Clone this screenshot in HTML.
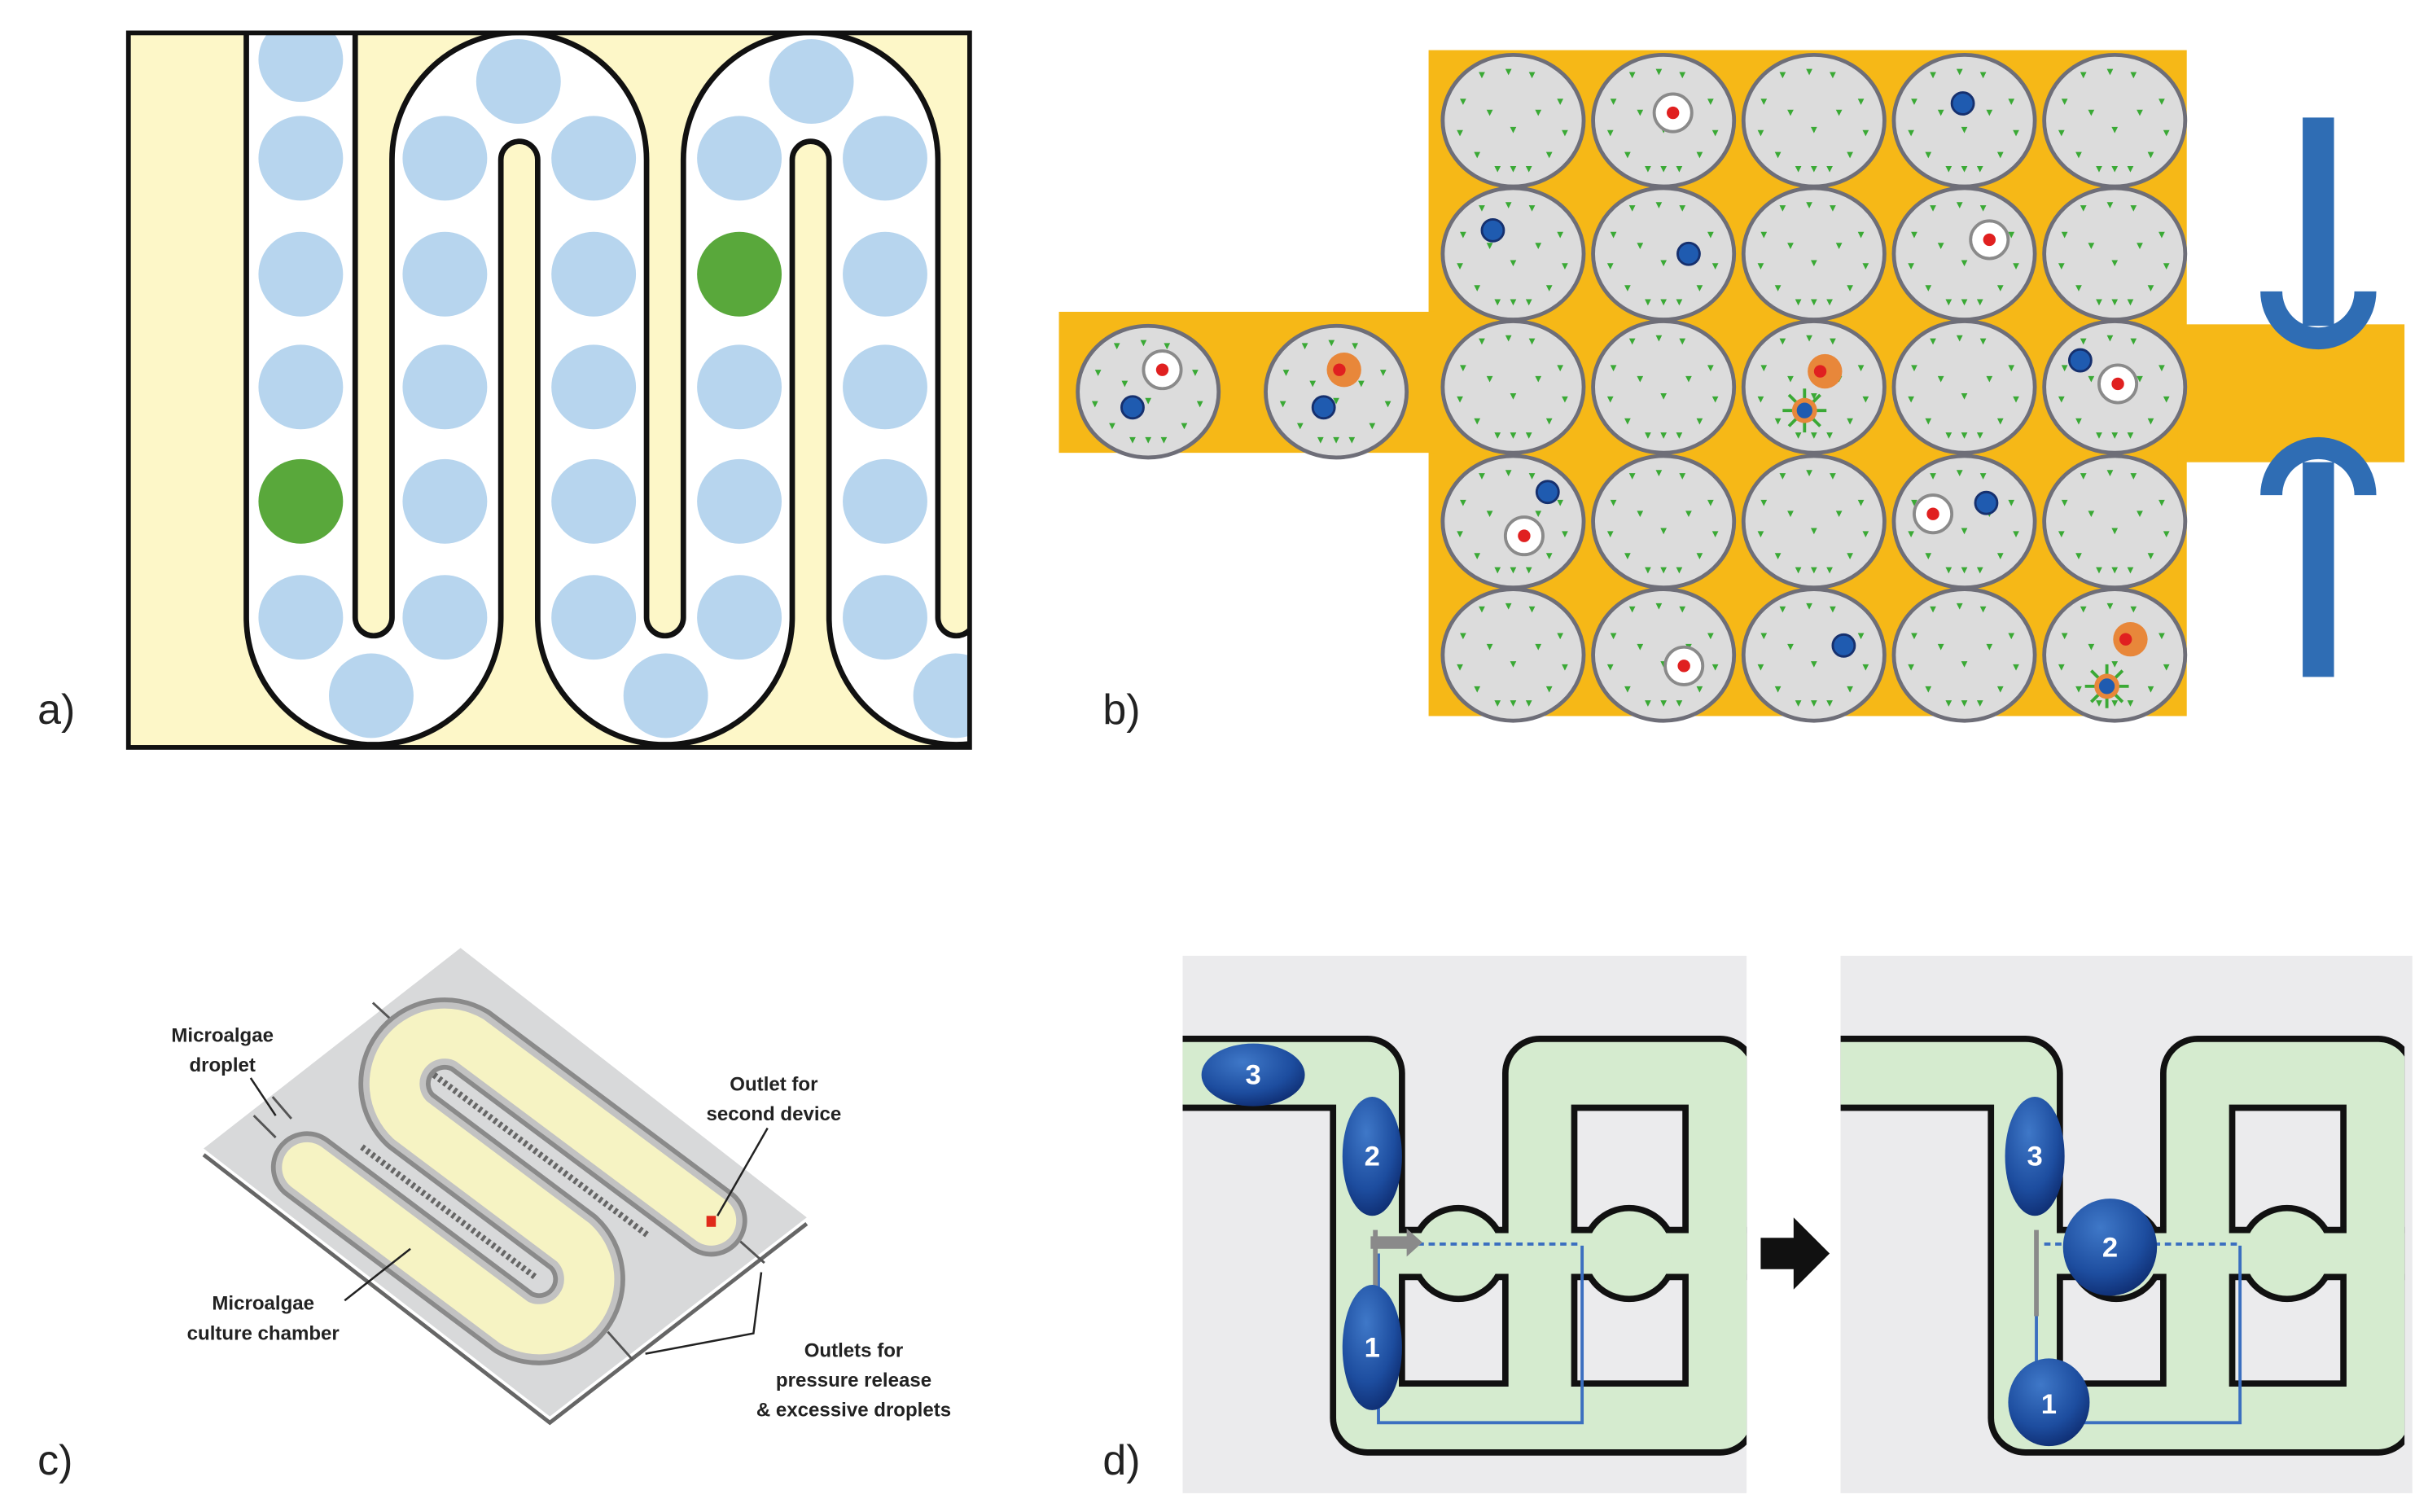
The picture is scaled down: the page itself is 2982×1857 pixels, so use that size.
<!DOCTYPE html>
<html><head><meta charset="utf-8"><style>
html,body{margin:0;padding:0;background:#fff;}
svg{display:block;}
</style></head><body>
<svg width="2982" height="1857" viewBox="0 0 1550 965" preserveAspectRatio="none" xmlns="http://www.w3.org/2000/svg">
<defs>
<clipPath id="ca"><rect x="82" y="21" width="537" height="456"/></clipPath>
<clipPath id="cdl"><rect x="755" y="610" width="360" height="343"/></clipPath>
<clipPath id="cdr"><rect x="1175" y="610" width="365" height="343"/></clipPath>
<radialGradient id="bl" cx="0.4" cy="0.3" r="0.8">
<stop offset="0" stop-color="#3f78c8"/><stop offset="0.6" stop-color="#1d4d9f"/><stop offset="1" stop-color="#0b2566"/></radialGradient>
<g id="mk" fill="#3aa935">
<polygon points="-22,-31 -18,-31 -20,-27"/><polygon points="-5,-33 -1,-33 -3,-29"/><polygon points="10,-31 14,-31 12,-27"/>
<polygon points="-34,-14 -30,-14 -32,-10"/><polygon points="28,-14 32,-14 30,-10"/><polygon points="-17,-7 -13,-7 -15,-3"/>
<polygon points="14,-7 18,-7 16,-3"/><polygon points="-36,6 -32,6 -34,10"/><polygon points="31,6 35,6 33,10"/>
<polygon points="-2,4 2,4 0,8"/><polygon points="-25,20 -21,20 -23,24"/><polygon points="21,20 25,20 23,24"/>
<polygon points="-12,29 -8,29 -10,33"/><polygon points="-2,29 2,29 0,33"/><polygon points="8,29 12,29 10,33"/>
</g>
<g id="cell"><ellipse rx="45" ry="42" fill="#dcdcdc" stroke="#6e6e78" stroke-width="2.5"/><use href="#mk"/></g>
<g id="wr"><circle r="12" fill="#fff" stroke="#8a8a8a" stroke-width="2"/><circle r="4" fill="#e02020"/></g>
<g id="bd"><circle r="7" fill="#1f5bb0" stroke="#16306e" stroke-width="1.5"/></g>
<g id="or"><circle r="11" fill="#e8873a"/><circle cx="-3" r="4" fill="#e02020"/></g>
<g id="st"><g stroke="#3aa935" stroke-width="2"><line x1="-14" y1="0" x2="14" y2="0"/><line x1="0" y1="-14" x2="0" y2="14"/><line x1="-10" y1="-10" x2="10" y2="10"/><line x1="-10" y1="10" x2="10" y2="-10"/></g><circle r="8" fill="#e8873a"/><circle r="5" fill="#1f5bb0"/></g>
</defs>

<!-- Panel a -->
<rect x="82" y="21" width="537" height="456" fill="#fdf7c8"/>
<g clip-path="url(#ca)" fill="none">
<path d="M192,0 V394 A46.5,46.5 0 0 0 285,394 V102 A46.5,46.5 0 0 1 378,102 V394 A46.5,46.5 0 0 0 471,394 V102 A46.5,46.5 0 0 1 564,102 V394 A46.5,46.5 0 0 0 657,394 V0" stroke="#111" stroke-width="73"/>
<path d="M192,0 V394 A46.5,46.5 0 0 0 285,394 V102 A46.5,46.5 0 0 1 378,102 V394 A46.5,46.5 0 0 0 471,394 V102 A46.5,46.5 0 0 1 564,102 V394 A46.5,46.5 0 0 0 657,394 V0" stroke="#fff" stroke-width="66"/>
<g fill="#b7d5ee">
<circle cx="192" cy="38" r="27"/><circle cx="192" cy="101" r="27"/><circle cx="192" cy="175" r="27"/><circle cx="192" cy="247" r="27"/><circle cx="192" cy="394" r="27"/>
<circle cx="237" cy="444" r="27"/>
<circle cx="284" cy="101" r="27"/><circle cx="284" cy="175" r="27"/><circle cx="284" cy="247" r="27"/><circle cx="284" cy="320" r="27"/><circle cx="284" cy="394" r="27"/>
<circle cx="331" cy="52" r="27"/>
<circle cx="379" cy="101" r="27"/><circle cx="379" cy="175" r="27"/><circle cx="379" cy="247" r="27"/><circle cx="379" cy="320" r="27"/><circle cx="379" cy="394" r="27"/>
<circle cx="425" cy="444" r="27"/>
<circle cx="472" cy="101" r="27"/><circle cx="472" cy="247" r="27"/><circle cx="472" cy="320" r="27"/><circle cx="472" cy="394" r="27"/>
<circle cx="518" cy="52" r="27"/>
<circle cx="565" cy="101" r="27"/><circle cx="565" cy="175" r="27"/><circle cx="565" cy="247" r="27"/><circle cx="565" cy="320" r="27"/><circle cx="565" cy="394" r="27"/>
<circle cx="610" cy="444" r="27"/>
</g>
<circle cx="192" cy="320" r="27" fill="#59a83b"/><circle cx="472" cy="175" r="27" fill="#59a83b"/>
</g>
<rect x="82" y="21" width="537" height="456" fill="none" stroke="#111" stroke-width="3"/>
<text x="24" y="462" font-family="Liberation Sans, sans-serif" font-size="27" fill="#222">a)</text>

<!-- Panel b -->
<rect x="912" y="32" width="484" height="425" fill="#f6b817"/>
<rect x="676" y="199" width="240" height="90" fill="#f6b817"/>
<rect x="1390" y="207" width="145" height="88" fill="#f6b817"/>
<circle cx="1480" cy="178" r="42" fill="#fff"/>
<circle cx="1480" cy="325" r="42" fill="#fff"/>
<g>
<use href="#cell" x="966" y="77"/><use href="#cell" x="1062" y="77"/><use href="#cell" x="1158" y="77"/><use href="#cell" x="1254" y="77"/><use href="#cell" x="1350" y="77"/>
<use href="#cell" x="966" y="162"/><use href="#cell" x="1062" y="162"/><use href="#cell" x="1158" y="162"/><use href="#cell" x="1254" y="162"/><use href="#cell" x="1350" y="162"/>
<use href="#cell" x="966" y="247"/><use href="#cell" x="1062" y="247"/><use href="#cell" x="1158" y="247"/><use href="#cell" x="1254" y="247"/><use href="#cell" x="1350" y="247"/>
<use href="#cell" x="966" y="333"/><use href="#cell" x="1062" y="333"/><use href="#cell" x="1158" y="333"/><use href="#cell" x="1254" y="333"/><use href="#cell" x="1350" y="333"/>
<use href="#cell" x="966" y="418"/><use href="#cell" x="1062" y="418"/><use href="#cell" x="1158" y="418"/><use href="#cell" x="1254" y="418"/><use href="#cell" x="1350" y="418"/>
<use href="#cell" x="733" y="250"/><use href="#cell" x="853" y="250"/>
</g>
<use href="#wr" x="1068" y="72"/><use href="#bd" x="1253" y="66"/>
<use href="#bd" x="953" y="147"/><use href="#bd" x="1078" y="162"/><use href="#wr" x="1270" y="153"/>
<use href="#or" x="1165" y="237"/><use href="#st" x="1152" y="262"/><use href="#bd" x="1328" y="230"/><use href="#wr" x="1352" y="245"/>
<use href="#bd" x="988" y="314"/><use href="#wr" x="973" y="342"/><use href="#wr" x="1234" y="328"/><use href="#bd" x="1268" y="321"/>
<use href="#wr" x="1075" y="425"/><use href="#bd" x="1177" y="412"/><use href="#or" x="1360" y="408"/><use href="#st" x="1345" y="438"/>
<use href="#wr" x="742" y="236"/><use href="#bd" x="723" y="260"/><use href="#or" x="858" y="236"/><use href="#bd" x="845" y="260"/>
<g stroke="#2f6db4" fill="none">
<line x1="1480" y1="75" x2="1480" y2="208" stroke-width="20"/>
<path d="M1450,186 A30,30 0 0 0 1510,186" stroke-width="14"/>
<line x1="1480" y1="295" x2="1480" y2="432" stroke-width="20"/>
<path d="M1450,316 A30,30 0 0 1 1510,316" stroke-width="14"/>
</g>
<text x="704" y="462" font-family="Liberation Sans, sans-serif" font-size="27" fill="#222">b)</text>

<!-- Panel c -->
<polygon points="294,605 515,777 351,904 130,733" fill="#d8d9da"/>
<polyline points="130,737 351,908 515,781" fill="none" stroke="#666" stroke-width="2.5"/>
<g fill="none" stroke="#555" stroke-width="1.5">
<line x1="238" y1="640" x2="262" y2="662"/>
<line x1="162" y1="712" x2="176" y2="726"/><line x1="174" y1="700" x2="186" y2="714"/>
<path d="M182,728 L190,736 L200,732"/>
<line x1="470" y1="790" x2="488" y2="806"/>
<line x1="388" y1="850" x2="404" y2="868"/>
</g>
<path d="M196,745 L328,844 A32,32 0 0 0 366,793 L262,715 A32,32 0 0 1 300,664 L454,779" fill="none" stroke="#8a8a8a" stroke-width="46" stroke-linecap="round" stroke-linejoin="round"/>
<path d="M196,745 L328,844 A32,32 0 0 0 366,793 L262,715 A32,32 0 0 1 300,664 L454,779" fill="none" stroke="#c2c2c2" stroke-width="40" stroke-linecap="round" stroke-linejoin="round"/>
<path d="M196,745 L328,844 A32,32 0 0 0 366,793 L262,715 A32,32 0 0 1 300,664 L454,779" fill="none" stroke="#f6f3c3" stroke-width="32" stroke-linecap="round" stroke-linejoin="round"/>
<path d="M231,732 L343,816 M277,686 L413,788" fill="none" stroke="#666" stroke-width="4" stroke-dasharray="2,2"/>
<rect x="451" y="776" width="6" height="7" fill="#e02a1a"/>
<g font-family="Liberation Sans, sans-serif" font-size="12.5" font-weight="bold" fill="#222" text-anchor="middle">
<text x="142" y="665">Microalgae</text><text x="142" y="684">droplet</text>
<text x="494" y="696">Outlet for</text><text x="494" y="715">second device</text>
<text x="168" y="836">Microalgae</text><text x="168" y="855">culture chamber</text>
<text x="545" y="866">Outlets for</text><text x="545" y="885">pressure release</text><text x="545" y="904">&amp; excessive droplets</text>
</g>
<g fill="none" stroke="#222" stroke-width="1.3">
<line x1="160" y1="688" x2="176" y2="712"/>
<line x1="490" y1="720" x2="458" y2="776"/>
<line x1="220" y1="830" x2="262" y2="797"/>
<polyline points="486,812 481,851 412,864"/>
</g>
<text x="24" y="941" font-family="Liberation Sans, sans-serif" font-size="27" fill="#222">c)</text>

<!-- Panel d -->
<rect x="755" y="610" width="360" height="343" fill="#ebebed"/>
<rect x="1175" y="610" width="365" height="343" fill="#ebebed"/>
<g id="chan" clip-path="url(#cdl)">
<g fill="none" stroke="#111" stroke-linejoin="round">
<path d="M740,685 H873 V905 H1098 V685 H983 V905" stroke-width="48"/>
<line x1="873" y1="800" x2="1130" y2="800" stroke-width="34"/>
<circle cx="931" cy="800" r="31" fill="#111" stroke="none"/>
<circle cx="1040" cy="800" r="31" fill="#111" stroke="none"/>
</g>
<g fill="none" stroke="#d5ebcf" stroke-linejoin="round">
<path d="M740,685 H873 V905 H1098 V685 H983 V905" stroke-width="40"/>
<line x1="873" y1="800" x2="1130" y2="800" stroke-width="26"/>
<circle cx="931" cy="800" r="27" fill="#d5ebcf" stroke="none"/>
<circle cx="1040" cy="800" r="27" fill="#d5ebcf" stroke="none"/>
</g>
</g>
<g clip-path="url(#cdr)"><use href="#chan" x="420" y="0" clip-path="none"/></g>
<g fill="none" stroke-width="2">
<polyline points="880,800 880,908 1010,908 1010,795" stroke="#3b6fc0"/>
<line x1="898" y1="794" x2="1010" y2="794" stroke="#3b6fc0" stroke-dasharray="4,3"/>
<polyline points="1300,800 1300,908 1430,908 1430,795" stroke="#3b6fc0"/>
<line x1="1305" y1="794" x2="1430" y2="794" stroke="#3b6fc0" stroke-dasharray="4,3"/>
</g>
<polygon points="875,789 898,789 898,784 908,793 898,802 898,797 875,797" fill="#8a8a8a"/>
<line x1="878" y1="785" x2="878" y2="840" stroke="#8a8a8a" stroke-width="3"/>
<line x1="1300" y1="785" x2="1300" y2="840" stroke="#8a8a8a" stroke-width="3"/>
<g font-family="Liberation Sans, sans-serif" font-weight="bold" font-size="18" fill="#fff" text-anchor="middle">
<ellipse cx="800" cy="686" rx="33" ry="20" fill="url(#bl)"/><text x="800" y="692">3</text>
<ellipse cx="876" cy="738" rx="19" ry="38" fill="url(#bl)"/><text x="876" y="744">2</text>
<ellipse cx="876" cy="860" rx="19" ry="40" fill="url(#bl)"/><text x="876" y="866">1</text>
<ellipse cx="1299" cy="738" rx="19" ry="38" fill="url(#bl)"/><text x="1299" y="744">3</text>
<ellipse cx="1347" cy="796" rx="30" ry="31" fill="url(#bl)"/><text x="1347" y="802">2</text>
<ellipse cx="1308" cy="895" rx="26" ry="28" fill="url(#bl)"/><text x="1308" y="902">1</text>
</g>
<polygon points="1124,790 1145,790 1145,777 1168,800 1145,823 1145,810 1124,810" fill="#111"/>
<text x="704" y="941" font-family="Liberation Sans, sans-serif" font-size="27" fill="#222">d)</text>
</svg>
</body></html>
